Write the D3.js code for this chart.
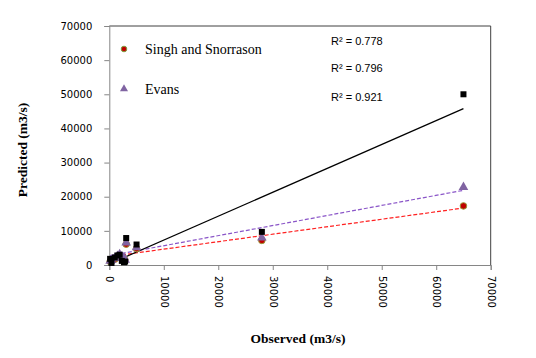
<!DOCTYPE html>
<html>
<head>
<script src='https://d3js.org/d3.v7.min.js'></script>

<style>
  body { margin: 0; background: #fff; }
  svg text { fill: #000; }
  .tick text { font: 10px "DejaVu Sans", sans-serif; }
  .title { font: bold 13.5px "Liberation Serif", serif; }
  .legend { font: 14px "Liberation Serif", serif; }
  .rsq { font: 11px "Liberation Sans", sans-serif; }
</style>
</head>
<body>
<script>
  // values
  var observed = [150, 400, 1000, 1500, 1900, 2300, 2700, 2900, 3100, 5000, 28000, 65000];
  var singh    = [1000, 1100, 1700, 2300, 2800, 2200, 1900, 1300, 6100, 4800, 7200, 17300];
  var evans    = [1200, 1400, 2000, 2600, 3100, 2500, 2200, 1500, 6500, 5100, 8000, 22800];
  var third    = [1800, 600, 2200, 2800, 3000, 1200, 800, 1000, 7900, 6000, 9700, 50000];

  var seriesNames = ["Singh and Snorrason", "Evans", ""];
  var trendSlope = [0.219, 0.295, 0.70];
  var trendIntercept = [2450, 2700, 300];
  var rsqLabels = ["R\u00b2 = 0.778", "R\u00b2 = 0.796", "R\u00b2 = 0.921"];
  var ticks = [0, 10000, 20000, 30000, 40000, 50000, 60000, 70000];

  var width = 536, height = 358;
  var svg = d3.select("body").append("svg")
    .attr("width", width)
    .attr("height", height);

  var x = d3.scaleLinear().domain([0, 70000]).range([109.3, 490.7]);
  var y = d3.scaleLinear().domain([0, 70000]).range([265, 26]);

  // plot area frame (top and right)
  svg.append("path")
    .attr("d", "M" + x(0) + "," + y(70000) + "H" + x(70000) + "V" + y(0))
    .attr("fill", "none")
    .attr("stroke", "#404040")
    .attr("stroke-width", 1);

  var yAxis = svg.append("g")
    .attr("transform", "translate(" + x(0) + ",0)")
    .call(d3.axisLeft(y).tickValues(ticks).tickSize(5).tickPadding(12).tickFormat(d3.format("d")));

  var xAxis = svg.append("g")
    .attr("transform", "translate(0," + y(0) + ")")
    .call(d3.axisBottom(x).tickValues(ticks).tickSize(5).tickFormat(d3.format("d")));

  [yAxis, xAxis].forEach(function(a) {
    a.select(".domain").attr("stroke", "#868686");
    a.selectAll(".tick line").attr("stroke", "#868686");
  });

  xAxis.selectAll(".tick text")
    .attr("transform", "rotate(90)")
    .attr("x", 11)
    .attr("y", 0)
    .attr("dy", "0.35em")
    .attr("text-anchor", "start");

  // axis titles
  svg.append("text")
    .attr("class", "title")
    .attr("x", 298)
    .attr("y", 343)
    .attr("text-anchor", "middle")
    .text("Observed (m3/s)");

  svg.append("text")
    .attr("class", "title")
    .attr("transform", "translate(27,150) rotate(-90)")
    .attr("text-anchor", "middle")
    .text("Predicted (m3/s)");

  // trendlines
  var lineColors = ["#ff2020", "#8a55c8", "#000"];
  var lineDash = ["4,2", "4,2", null];
  var xmin = d3.min(observed), xmax = d3.max(observed);
  trendSlope.forEach(function(m, i) {
    var b = trendIntercept[i];
    svg.append("line")
      .attr("x1", x(xmin)).attr("y1", y(m * xmin + b))
      .attr("x2", x(xmax)).attr("y2", y(m * xmax + b))
      .attr("stroke", lineColors[i])
      .attr("stroke-width", 1.2)
      .attr("stroke-dasharray", lineDash[i]);
  });

  var tri = d3.symbol().type(d3.symbolTriangle).size(40);

  // Singh and Snorrason
  svg.append("g").selectAll("circle")
    .data(observed)
    .enter().append("circle")
    .attr("cx", function(d) { return x(d); })
    .attr("cy", function(d, i) { return y(singh[i]); })
    .attr("r", 3.3)
    .attr("fill", "#c00000")
    .attr("stroke", "#9a9a3a")
    .attr("stroke-width", 1);

  // Evans
  svg.append("g").selectAll("path")
    .data(observed)
    .enter().append("path")
    .attr("d", tri)
    .attr("transform", function(d, i) { return "translate(" + x(d) + "," + y(evans[i]) + ")"; })
    .attr("fill", "#8064a2");

  // third series
  svg.append("g").selectAll("rect")
    .data(observed)
    .enter().append("rect")
    .attr("x", function(d) { return x(d) - 3; })
    .attr("y", function(d, i) { return y(third[i]) - 3; })
    .attr("width", 6)
    .attr("height", 6)
    .attr("fill", "#000");

  // legend
  var lg = svg.append("g");
  lg.append("circle")
    .attr("cx", 124).attr("cy", 49).attr("r", 2.8)
    .attr("fill", "#c00000").attr("stroke", "#7f9f3f").attr("stroke-width", 1);
  lg.append("path")
    .attr("d", d3.symbol().type(d3.symbolTriangle).size(28))
    .attr("transform", "translate(124,89)")
    .attr("fill", "#8064a2");
  lg.selectAll("text.legend")
    .data(seriesNames.slice(0, 2))
    .enter().append("text")
    .attr("class", "legend")
    .attr("x", 145)
    .attr("y", function(d, i) { return 54 + i * 40; })
    .text(function(d) { return d; });

  // R squared labels
  svg.selectAll("text.rsq")
    .data(rsqLabels)
    .enter().append("text")
    .attr("class", "rsq")
    .attr("x", 331)
    .attr("y", function(d, i) { return [45, 72, 101][i]; })
    .text(function(d) { return d; });
</script>
</body>
</html>
